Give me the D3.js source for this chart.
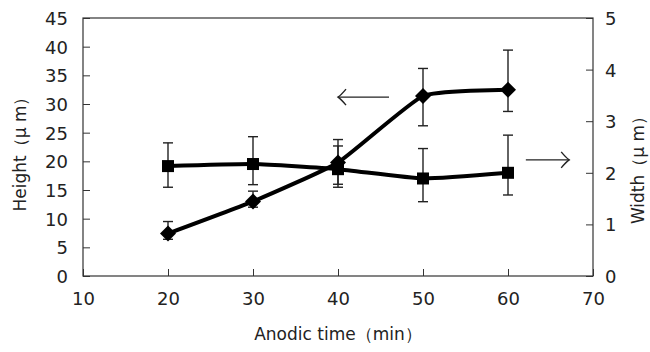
<!DOCTYPE html>
<html lang="en">
<head>
<meta charset="UTF-8">
<title>Height and width vs anodic time</title>
<script src="https://d3js.org/d3.v7.min.js"></script>
<style>
    body { margin: 0; padding: 0; background: #fff; }
    svg { display: block; }
    text { font-family: 'DejaVu Sans', Arial, sans-serif; fill: #222; }
    .axis path, .axis line { stroke: #333; }
</style>
</head>
<body>
<div id="chart"></div>
<script>
    // anodic time (min)
    const times = [20, 30, 40, 50, 60];
    // height (um), left axis, diamonds
    const heightVals = [7.4, 13.0, 19.8, 31.4, 32.5];
    const heightErrUp = [2.1, 1.8, 4.0, 4.8, 6.9];
    const heightErrDown = [1.0, 1.0, 3.8, 5.2, 3.8];
    // width (um), right axis, squares
    const widthVals = [2.13, 2.17, 2.07, 1.89, 2.0];
    const widthErrUp = [0.45, 0.53, 0.45, 0.58, 0.73];
    const widthErrDown = [0.41, 0.40, 0.35, 0.45, 0.43];

    const xTicks = [10, 20, 30, 40, 50, 60, 70];
    const leftTicks = [0, 5, 10, 15, 20, 25, 30, 35, 40, 45];
    const rightTicks = [0, 1, 2, 3, 4, 5];

    const W = 650, H = 352;
    const margin = { top: 18, right: 57, bottom: 76, left: 83 };
    const width = W - margin.left - margin.right;
    const height = H - margin.top - margin.bottom;

    const svg = d3.select("#chart").append("svg")
        .attr("width", W)
        .attr("height", H);
    const g = svg.append("g").attr("transform", `translate(${margin.left},${margin.top})`);

    const x = d3.scaleLinear().domain([10, 70]).range([0, width]);
    const yL = d3.scaleLinear().domain([0, 45]).range([height, 0]);
    const yR = d3.scaleLinear().domain([0, 5]).range([height, 0]);

    // frame
    g.append("rect")
        .attr("width", width).attr("height", height)
        .attr("fill", "none").attr("stroke", "#333").attr("stroke-width", 1.2);

    // axes, ticks point inward
    const xAxis = g.append("g").attr("class", "axis")
        .attr("transform", `translate(0,${height})`)
        .call(d3.axisTop(x).tickValues(xTicks).tickSize(7).tickFormat(d3.format("d")));
    xAxis.selectAll("text").remove();
    xAxis.selectAll(".tick").append("text")
        .attr("y", 29).attr("text-anchor", "middle")
        .style("font-size", "18px")
        .text(d => d);

    const lAxis = g.append("g").attr("class", "axis")
        .call(d3.axisRight(yL).tickValues(leftTicks).tickSize(7));
    lAxis.selectAll("text").remove();
    lAxis.selectAll(".tick").append("text")
        .attr("x", -15).attr("dy", "0.36em").attr("text-anchor", "end")
        .style("font-size", "18px")
        .text(d => d);

    const rAxis = g.append("g").attr("class", "axis")
        .attr("transform", `translate(${width},0)`)
        .call(d3.axisLeft(yR).tickValues(rightTicks).tickSize(7));
    rAxis.selectAll("text").remove();
    rAxis.selectAll(".tick").append("text")
        .attr("x", 12).attr("dy", "0.36em").attr("text-anchor", "start")
        .style("font-size", "18px")
        .text(d => d);
    g.selectAll(".axis .domain").remove();

    // axis titles
    svg.append("text")
        .attr("x", margin.left + width / 2).attr("y", 340)
        .attr("text-anchor", "middle").style("font-size", "17px")
        .text("Anodic time（min）");
    svg.append("text")
        .attr("transform", `translate(26,${margin.top + 132}) rotate(-90)`)
        .attr("text-anchor", "middle").style("font-size", "17px")
        .text("Height（μ m）");
    svg.append("text")
        .attr("transform", `translate(644,${margin.top + 148}) rotate(-90)`)
        .attr("text-anchor", "middle").style("font-size", "17px")
        .text("Width（μ m）");

    const heightData = times.map((t, i) => ({ t, v: heightVals[i], up: heightErrUp[i], dn: heightErrDown[i] }));
    const widthData = times.map((t, i) => ({ t, v: widthVals[i], up: widthErrUp[i], dn: widthErrDown[i] }));

    function errorBars(data, y) {
        const eb = g.append("g").attr("stroke", "#222").attr("stroke-width", 1.4);
        data.forEach(d => {
            const cx = x(d.t);
            eb.append("line").attr("x1", cx).attr("x2", cx).attr("y1", y(d.v + d.up)).attr("y2", y(d.v - d.dn));
            [d.v + d.up, d.v - d.dn].forEach(val => {
                eb.append("line").attr("x1", cx - 5).attr("x2", cx + 5).attr("y1", y(val)).attr("y2", y(val));
            });
        });
    }

    errorBars(widthData, yR);
    errorBars(heightData, yL);

    // slightly smoothed lines, like the spreadsheet original
    const curve = d3.curveCardinal.tension(0.55);
    g.append("path").datum(widthData)
        .attr("fill", "none").attr("stroke", "#000").attr("stroke-width", 4)
        .attr("d", d3.line().curve(curve).x(d => x(d.t)).y(d => yR(d.v)));
    g.append("path").datum(heightData)
        .attr("fill", "none").attr("stroke", "#000").attr("stroke-width", 4)
        .attr("d", d3.line().curve(curve).x(d => x(d.t)).y(d => yL(d.v)));

    g.selectAll(".sq").data(widthData).enter().append("rect")
        .attr("x", d => x(d.t) - 6).attr("y", d => yR(d.v) - 6)
        .attr("width", 12).attr("height", 12).attr("fill", "#000");
    g.selectAll(".dia").data(heightData).enter().append("path")
        .attr("transform", d => `translate(${x(d.t)},${yL(d.v)})`)
        .attr("d", "M0,-8L8,0L0,8L-8,0Z").attr("fill", "#000");

    // arrows pointing to the axis each series belongs to
    const arrowFrom = [46, 62.1];
    const arrowTo = [40, 67.2];
    const arrowLevel = [31.2, 2.25];
    const arrowScale = [yL, yR];
    arrowFrom.forEach((f, i) => {
        const x0 = x(f), x1 = x(arrowTo[i]), yy = arrowScale[i](arrowLevel[i]);
        const dir = x1 > x0 ? 1 : -1;
        const a = g.append("g").attr("fill", "none").attr("stroke", "#222").attr("stroke-width", 1.4);
        a.append("line").attr("x1", x0).attr("x2", x1).attr("y1", yy).attr("y2", yy);
        a.append("path").attr("d", `M${x1 - dir * 8},${yy - 8}Q${x1 - dir * 3},${yy - 2} ${x1},${yy}Q${x1 - dir * 3},${yy + 2} ${x1 - dir * 8},${yy + 8}`);
    });
</script>
</body>
</html>
